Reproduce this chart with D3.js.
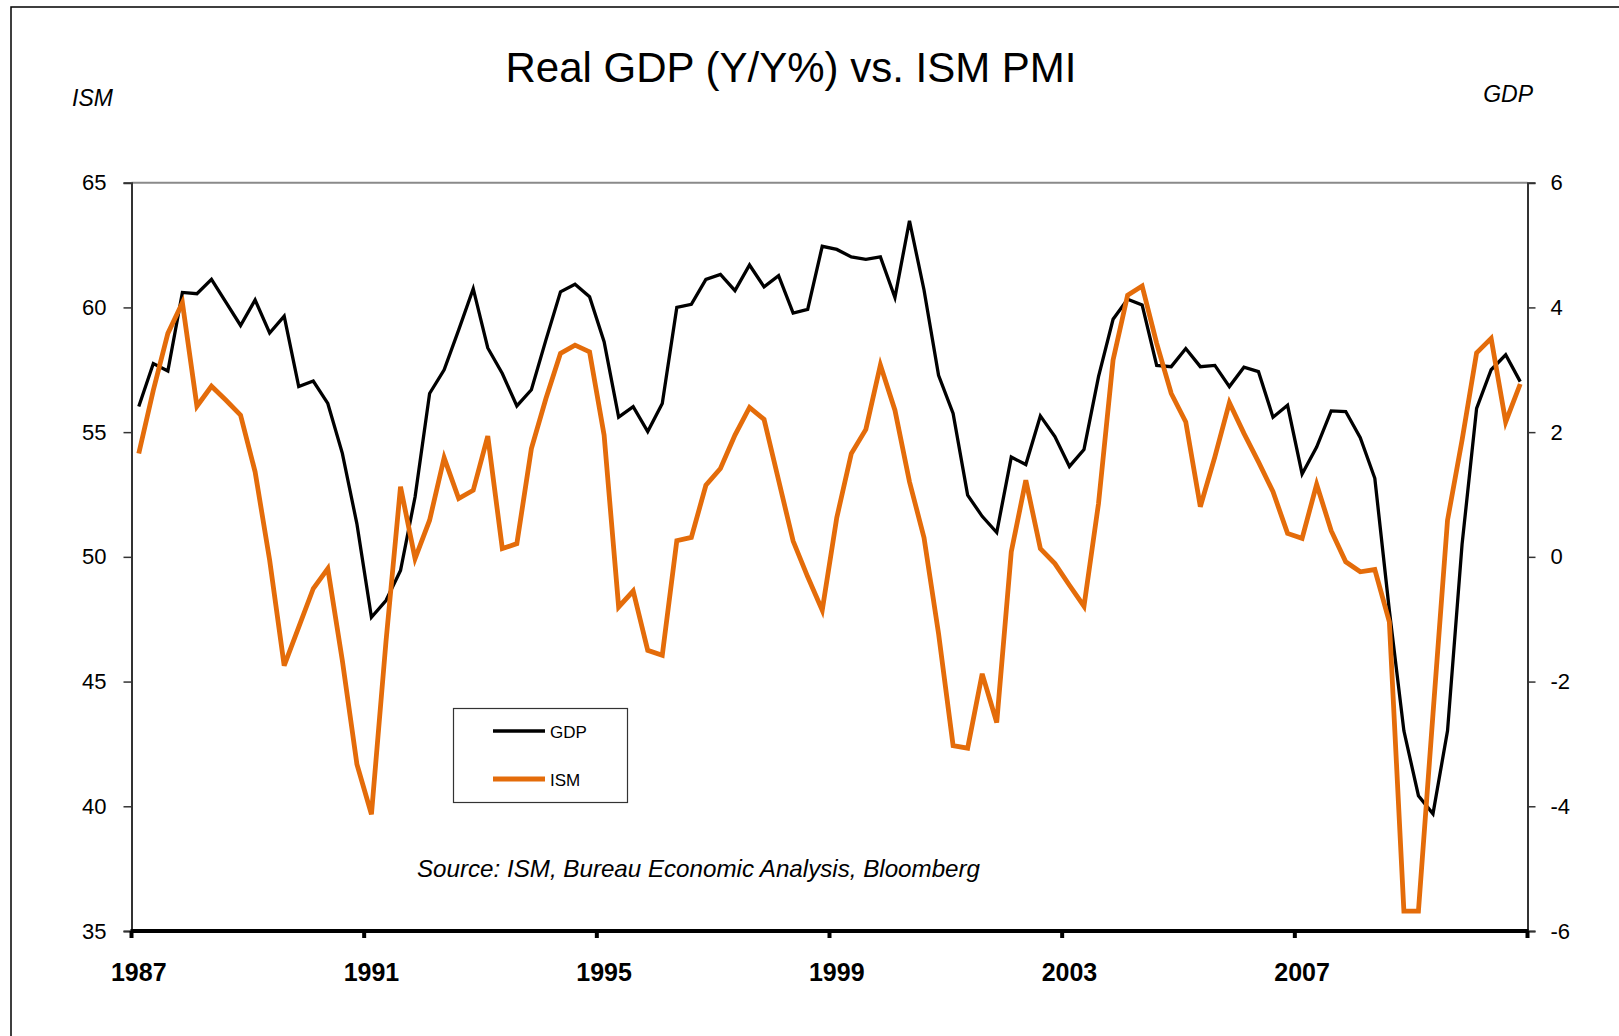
<!DOCTYPE html>
<html>
<head>
<meta charset="utf-8">
<script src="https://cdn.jsdelivr.net/npm/d3@7"></script>
<style>
  html, body { margin: 0; padding: 0; background: #fff; }
  svg { display: block; font-family: "Liberation Sans", Arial, sans-serif; }
</style>
</head>
<body>
<svg id="chart" width="1619" height="1036"></svg>
<script>
// ---- Data (quarterly, 1987Q1 .. 2010Q4) ----
const startYear = 1987;
const endYear = 2010;
const categories = [];
for (let y = startYear; y <= endYear; y++) for (let q = 1; q <= 4; q++) categories.push(y + "Q" + q);

const gdp = [
  2.41, 3.10, 2.98, 4.24, 4.22, 4.45, 4.08, 3.71, 4.12, 3.59, 3.86, 2.73,
  2.82, 2.46, 1.66, 0.53, -0.97, -0.70, -0.22, 0.96, 2.62, 3.00, 3.64, 4.30,
  3.35, 2.94, 2.42, 2.68, 3.48, 4.25, 4.37, 4.17, 3.45, 2.24, 2.41, 2.01,
  2.46, 4.00, 4.05, 4.45, 4.53, 4.27, 4.68, 4.33, 4.51, 3.91, 3.97, 4.98,
  4.93, 4.81, 4.77, 4.81, 4.16, 5.39, 4.28, 2.91, 2.30, 0.99, 0.65, 0.39,
  1.60, 1.48, 2.26, 1.93, 1.45, 1.72, 2.89, 3.81, 4.13, 4.04, 3.07, 3.05,
  3.34, 3.05, 3.07, 2.73, 3.04, 2.97, 2.24, 2.43, 1.33, 1.76, 2.34, 2.33,
  1.91, 1.26, -0.86, -2.79, -3.83, -4.12, -2.79, 0.20, 2.38, 3.00, 3.24, 2.81
];

const ism = [
  54.14, 56.68, 58.96, 60.19, 56.04, 56.84, 56.28, 55.68, 53.41, 49.87, 45.64, 47.18,
  48.73, 49.53, 45.84, 41.69, 39.68, 46.60, 52.81, 49.93, 51.47, 53.97, 52.34, 52.67,
  54.84, 50.33, 50.53, 54.34, 56.35, 58.16, 58.49, 58.22, 54.88, 47.99, 48.63, 46.25,
  46.05, 50.65, 50.78, 52.87, 53.54, 54.88, 55.99, 55.51, 53.07, 50.63, 49.20, 47.86,
  51.57, 54.14, 55.11, 57.69, 55.88, 53.01, 50.77, 46.92, 42.43, 42.33, 45.31, 43.36,
  50.20, 53.07, 50.33, 49.73, 48.86, 48.02, 52.14, 57.89, 60.49, 60.86, 58.56, 56.55,
  55.41, 52.01, 54.01, 56.18, 54.95, 53.81, 52.61, 50.94, 50.74, 52.91, 51.05, 49.80,
  49.40, 49.49, 47.39, 35.80, 35.80, 43.70, 51.47, 54.68, 58.18, 58.76, 55.41, 56.93
];

const xTickLabels = ["1987", "1991", "1995", "1999", "2003", "2007"];
const leftTicks = [35, 40, 45, 50, 55, 60, 65];
const rightTicks = [-6, -4, -2, 0, 2, 4, 6];

// ---- Layout ----
const plot = { left: 131.5, right: 1527.5, top: 182.7, bottom: 931 };
const orange = "#E46C0A";

const svg = d3.select("#chart");

const x = d3.scaleBand().domain(categories).range([plot.left, plot.right]).padding(0);
const cx = d => x(d) + x.bandwidth() / 2;
const yL = d3.scaleLinear().domain([35, 65]).range([plot.bottom, plot.top]);
const yR = d3.scaleLinear().domain([-6, 6]).range([plot.bottom, plot.top]);

// outer frame
svg.append("rect").attr("x", 11).attr("y", 7).attr("width", 1700).attr("height", 1100)
  .attr("fill", "none").attr("stroke", "#000").attr("stroke-width", 1.5);

// title
svg.append("text").attr("x", 791).attr("y", 82).attr("text-anchor", "middle")
  .attr("font-size", 42).attr("fill", "#000").text("Real GDP (Y/Y%) vs. ISM PMI");

// axis titles
svg.append("text").attr("x", 72).attr("y", 106).attr("font-size", 23).attr("font-style", "italic")
  .attr("fill", "#000").text("ISM");
svg.append("text").attr("x", 1533).attr("y", 102).attr("text-anchor", "end").attr("font-size", 23)
  .attr("font-style", "italic").attr("fill", "#000").text("GDP");

// top border of plot
svg.append("line").attr("x1", plot.left).attr("x2", plot.right).attr("y1", plot.top).attr("y2", plot.top)
  .attr("stroke", "#8a8a8a").attr("stroke-width", 2);

// left axis
const gL = svg.append("g").attr("transform", `translate(${plot.left},0)`)
  .call(d3.axisLeft(yL).tickValues(leftTicks).tickSize(8).tickPadding(17).tickFormat(d => String(d)));
gL.select(".domain").attr("stroke", "#333").attr("stroke-width", 2);
gL.selectAll(".tick line").attr("stroke", "#333").attr("stroke-width", 1.5);
gL.selectAll(".tick text").attr("font-size", 22).attr("fill", "#000")
  .attr("font-family", "Liberation Sans, Arial, sans-serif");

// right axis
const gR = svg.append("g").attr("transform", `translate(${plot.right},0)`)
  .call(d3.axisRight(yR).tickValues(rightTicks).tickSize(8).tickPadding(15).tickFormat(d => String(d)));
gR.select(".domain").attr("stroke", "#333").attr("stroke-width", 2);
gR.selectAll(".tick line").attr("stroke", "#333").attr("stroke-width", 1.5);
gR.selectAll(".tick text").attr("font-size", 22).attr("fill", "#000")
  .attr("font-family", "Liberation Sans, Arial, sans-serif");

// bottom axis
const gB = svg.append("g");
gB.append("line").attr("x1", plot.left - 1).attr("x2", plot.right + 1).attr("y1", plot.bottom).attr("y2", plot.bottom)
  .attr("stroke", "#000").attr("stroke-width", 4);
const boundaryIdx = d3.range(0, categories.length + 1, 16);
gB.selectAll("line.bt").data(boundaryIdx).join("line").attr("class", "bt")
  .attr("x1", i => i < categories.length ? x(categories[i]) : plot.right)
  .attr("x2", i => i < categories.length ? x(categories[i]) : plot.right)
  .attr("y1", plot.bottom).attr("y2", plot.bottom + 7)
  .attr("stroke", "#000").attr("stroke-width", 4);
gB.selectAll("text").data(xTickLabels).join("text")
  .attr("x", d => cx(d + "Q1")).attr("y", 981)
  .attr("text-anchor", "middle").attr("font-size", 25).attr("font-weight", "bold").attr("fill", "#000")
  .text(d => d);

// lines
const lineG = d3.line().x((d, i) => cx(categories[i])).y(d => yR(d));
const lineI = d3.line().x((d, i) => cx(categories[i])).y(d => yL(d));
svg.append("path").datum(gdp).attr("d", lineG).attr("fill", "none")
  .attr("stroke", "#000").attr("stroke-width", 3.3).attr("stroke-linejoin", "miter");
svg.append("path").datum(ism).attr("d", lineI).attr("fill", "none")
  .attr("stroke", orange).attr("stroke-width", 4.8).attr("stroke-linejoin", "miter");

// legend
const lg = svg.append("g");
lg.append("rect").attr("x", 453.5).attr("y", 708.5).attr("width", 174).attr("height", 94)
  .attr("fill", "#fff").attr("stroke", "#333").attr("stroke-width", 1.2);
const legendItems = [
  { name: "GDP", color: "#000", w: 3.3, y: 731 },
  { name: "ISM", color: orange, w: 4.8, y: 779 }
];
legendItems.forEach(it => {
  lg.append("line").attr("x1", 493).attr("x2", 545).attr("y1", it.y).attr("y2", it.y)
    .attr("stroke", it.color).attr("stroke-width", it.w);
  lg.append("text").attr("x", 550).attr("y", it.y + 7).attr("font-size", 17).attr("fill", "#000").text(it.name);
});

// source
svg.append("text").attr("x", 417).attr("y", 877).attr("font-size", 24).attr("font-style", "italic")
  .attr("fill", "#000").attr("textLength", 563).attr("lengthAdjust", "spacingAndGlyphs")
  .text("Source: ISM, Bureau Economic Analysis, Bloomberg");
</script>
</body>
</html>
